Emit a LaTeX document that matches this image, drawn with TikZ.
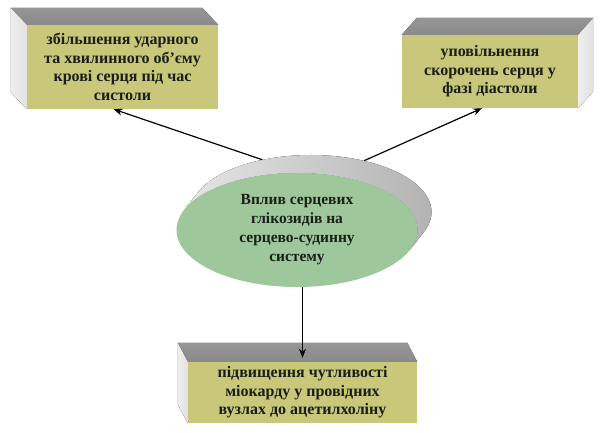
\documentclass[tikz,border=0pt]{standalone}
\usepackage{fontspec}
\setmainfont{Liberation Serif}
\usetikzlibrary{shapes.geometric,arrows.meta}
\definecolor{facecol}{RGB}{200,199,122}
\definecolor{topcol}{RGB}{138,138,138}
\definecolor{sidecol}{RGB}{226,226,226}
\definecolor{greencol}{RGB}{158,200,156}
\definecolor{textcol}{RGB}{26,30,24}
\tikzset{
  facebox/.style={fill=facecol, text=textcol, align=center, inner sep=0pt,
    font=\bfseries\fontsize{16}{18.5}\selectfont},
  topface/.style={top color=topcol!90, bottom color=topcol},
  sideface/.style={left color=sidecol!60, right color=sidecol},
  rimfill/.style={left color=gray!20, right color=gray!62},
  arrow/.style={-{Stealth[length=9pt,width=7pt]}, line width=1.2pt}
}
\begin{document}
\begin{tikzpicture}[x=1pt,y=-1pt]
  \useasboundingbox[fill=white] (0,0) rectangle (602,432);
  % boxes
  \node[facebox, minimum width=191pt, minimum height=84pt] (incbox) at (122.5,67)
    {збільшення ударного\\та хвилинного об'єму\\крові серця під час\\систоли};
  \fill[topface] (incbox.north west) -- ++(-16,-17) -- ([shift={(-16,-17)}]incbox.north east) -- (incbox.north east) -- cycle;
  \fill[sideface] (incbox.north west) -- ++(-16,-17) -- ([shift={(-16,-17)}]incbox.south west) -- (incbox.south west) -- cycle;

  \node[facebox, minimum width=176pt, minimum height=73pt] (slowbox) at (490,71.5)
    {уповільнення\\скорочень серця у\\фазі діастоли};
  \fill[topface] (slowbox.north west) -- ++(15,-17) -- ([shift={(15,-17)}]slowbox.north east) -- (slowbox.north east) -- cycle;
  \fill[sideface] (slowbox.north east) -- ++(15,-17) -- ([shift={(15,-17)}]slowbox.south east) -- (slowbox.south east) -- cycle;

  \node[facebox, minimum width=229pt, minimum height=61pt] (sensbox) at (302.5,392.5)
    {підвищення чутливості\\міокарду у провідних\\вузлах до ацетилхоліну};
  \fill[topface] (sensbox.north west) -- ++(-10,-19) -- ([shift={(-10,-19)}]sensbox.north east) -- (sensbox.north east) -- cycle;
  \fill[sideface] (sensbox.north west) -- ++(-10,-19) -- ([shift={(-10,-19)}]sensbox.south west) -- (sensbox.south west) -- cycle;

  % ellipse with rim
  \node[ellipse, inner sep=0pt, minimum width=241pt, minimum height=114pt] (rim) at (311,212) {};
  \fill[rimfill] ([shift={(-20.2:120.5pt and 57pt)}]rim.center)
    arc[start angle=-20.2, end angle=159.8, x radius=120.5pt, y radius=57pt]
    -- ++(-14,18)
    arc[start angle=159.8, end angle=-20.2, x radius=120.5pt, y radius=57pt] -- cycle;
  \node[ellipse, fill=greencol, text=textcol, align=center, inner sep=0pt,
    minimum width=241pt, minimum height=114pt,
    font=\bfseries\fontsize{15.5}{19}\selectfont] (effect) at (297,230)
    {Вплив серцевих\\глікозидів на\\серцево-судинну\\систему};

  % arrows
  \draw[arrow] (rim.133) -- ([xshift=-9pt]incbox.south);
  \draw[arrow] (rim.44) -- ([xshift=-8pt]slowbox.south);
  \draw[arrow] (effect.south -| sensbox) -- ([yshift=4pt]sensbox.north);
\end{tikzpicture}
\end{document}
